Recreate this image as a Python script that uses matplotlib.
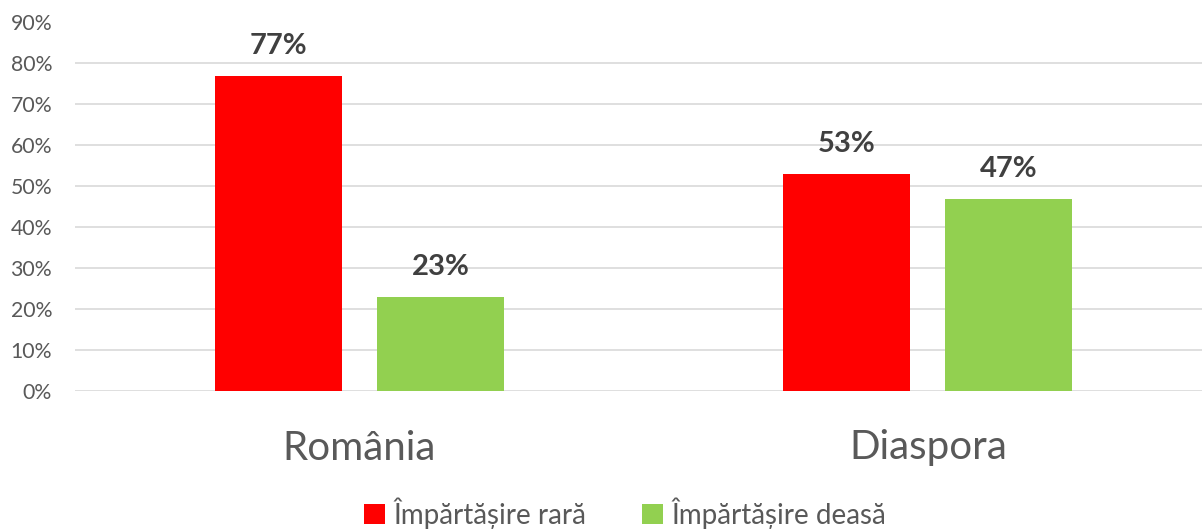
import numpy as np
import matplotlib
matplotlib.use("Agg")
import matplotlib.pyplot as plt
from matplotlib.patches import Patch

# date
categorii = ["România", "Diaspora"]
serii = ["Împărtășire rară", "Împărtășire deasă"]
rar = [77, 53]
des = [23, 47]
culori = ["#ff0000", "#92d050"]
yticks = [0, 10, 20, 30, 40, 50, 60, 70, 80, 90]

plt.rcParams["font.family"] = ["Lato", "DejaVu Sans"]

W, H = 1202, 529
fig = plt.figure(figsize=(W / 100, H / 100), dpi=100)
ax = fig.add_axes([75 / W, 1 - 391 / H, 1 - 75 / W, (391 - 22.5) / H])

x = np.arange(len(categorii))
latime = 0.2234
offset = 0.1425

for i, (valori, culoare) in enumerate(zip([rar, des], culori)):
    pos = x + (-offset if i == 0 else offset)
    ax.bar(pos, valori, width=latime, color=culoare, zorder=2)
    for px, v in zip(pos, valori):
        ax.text(px, v + 7.3, f"{v}%", ha="center", va="center",
                fontsize=21, fontweight="bold", color="#404040")

ax.set_xlim(-0.5, 1.482)
ax.set_ylim(0, 90)
ax.set_yticks(yticks)
ax.set_yticklabels([f"{t}%" for t in yticks], fontsize=15.3, color="#595959")
ax.tick_params(axis="y", length=0, pad=16.5)
ax.set_xticks([])
ax.grid(axis="y", color="#d9d9d9", linewidth=1.2, zorder=0)
ax.set_axisbelow(True)
for s in ax.spines.values():
    s.set_visible(False)

for xi, c in zip(x, categorii):
    ax.text(xi, -57 / 368.5, c, transform=ax.get_xaxis_transform(),
            ha="center", va="center", fontsize=29, color="#595959")

handles = [Patch(facecolor=c, edgecolor="none") for c in culori]
fig.legend(handles, serii, loc="center", bbox_to_anchor=(625 / W, 1 - 513 / H),
           ncol=2, frameon=False, fontsize=20, labelcolor="#595959",
           handlelength=0.75, handleheight=0.75, handletextpad=0.3, columnspacing=2.0)

fig.savefig("out.png", dpi=100)
